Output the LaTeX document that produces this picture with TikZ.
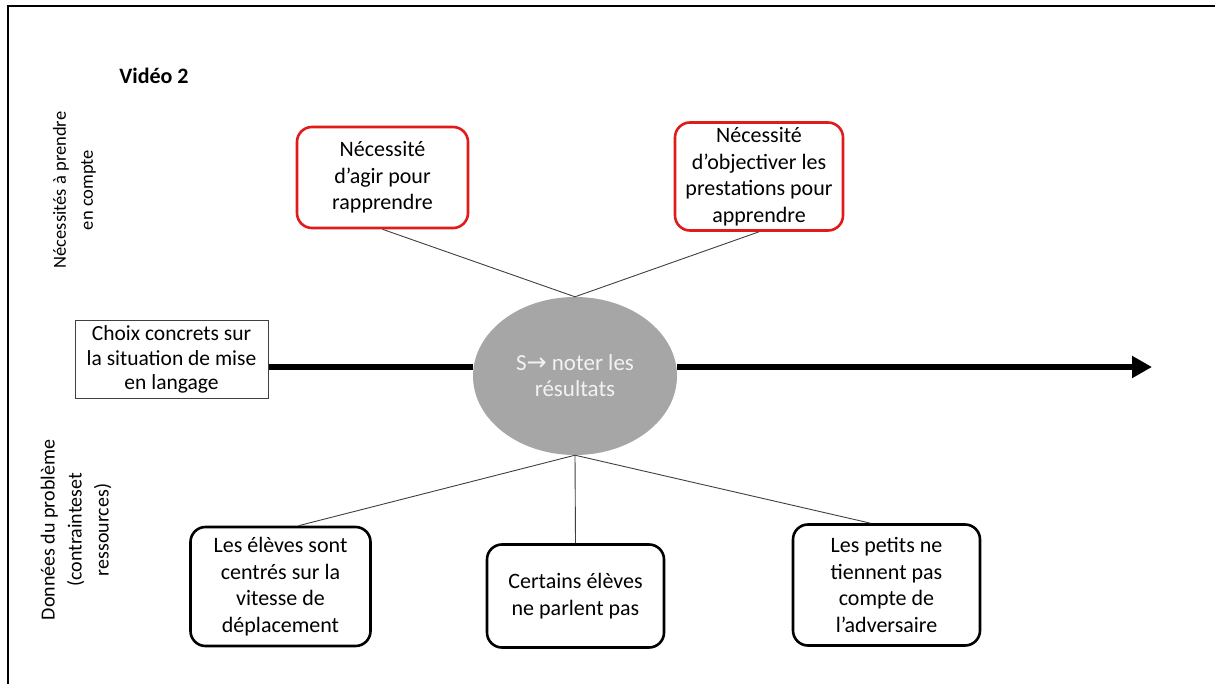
\documentclass[tikz,border=0pt]{standalone}
\usepackage{fontspec}
\setmainfont{Carlito}
\usetikzlibrary{arrows.meta,shapes.geometric}
\definecolor{boxred}{HTML}{E01B1B}
\definecolor{ellgray}{HTML}{A6A6A6}
\definecolor{elltext}{HTML}{F2F2F2}
\definecolor{connc}{HTML}{404040}
\tikzset{
  txt/.style={font=\fontsize{22}{26.5}\selectfont, align=center, inner sep=0pt},
  sidetxt/.style={font=\fontsize{18.5}{27}\selectfont, align=center, inner sep=0pt},
  redbox/.style={txt, draw=boxred, line width=2.6pt, rounded corners=15pt, fill=white},
  blackbox/.style={txt, draw=black, line width=2.6pt, rounded corners=15pt, fill=white},
  plainbox/.style={font=\fontsize{21.5}{24.5}\selectfont, align=center, inner sep=0pt, draw=connc, line width=1pt, fill=white},
  conn/.style={draw=connc, line width=0.9pt},
  thick axis/.style={line width=6.5pt, draw=black},
}
\begin{document}
\begin{tikzpicture}[x=1pt,y=-1pt]
\useasboundingbox (0,0) rectangle (1215,684);
\fill[white] (0,0) rectangle (1215,684);
% frame
\draw[line width=2pt] (8,684) -- (8,6) -- (1215,6);
% title
\node[font=\fontsize{22}{26}\selectfont\bfseries, inner sep=0pt] (title) at (154,76) {Vidéo 2};
% side labels
\node[sidetxt, rotate=90] (lab1) at (74.5,190) {Nécessités à prendre\\en compte};
\node[sidetxt, font=\fontsize{20}{27}\selectfont, rotate=90] (lab2) at (76,530) {Données du problème\\(contrainteset\\ressources)};
% boxes
\node[redbox, minimum width=171pt, minimum height=101pt] (n1) at (382.5,177.5) {Nécessité\\d’agir pour\\rapprendre};
\node[redbox, minimum width=168pt, minimum height=108pt] (n2) at (759,176.5) {Nécessité\\d’objectiver les\\prestations pour\\apprendre};
\node[plainbox, minimum width=193pt, minimum height=77pt] (c) at (171.5,359.5) {Choix concrets sur\\la situation de mise\\en langage};
\node[ellipse, fill=ellgray, minimum width=204pt, minimum height=158pt, inner sep=0pt,
      font=\fontsize{23}{26}\selectfont, text=elltext, align=center] (e) at (575,376) {S{\fontspec{DejaVu Sans}\fontsize{24}{26}\selectfont→} noter les\\résultats};
\node[blackbox, minimum width=180pt, minimum height=119pt] (a) at (280.5,586.5) {Les élèves sont\\centrés sur la\\vitesse de\\déplacement};
\node[blackbox, minimum width=177pt, minimum height=103pt] (b) at (575.5,596) {Certains élèves\\ne parlent pas};
\node[blackbox, minimum width=187pt, minimum height=121pt] (d) at (886.5,585) {Les petits ne\\tiennent pas\\compte de\\l’adversaire};
% axis
\coordinate (ly) at (0,367);
\coordinate (tip) at (1152,367);
\draw[thick axis] (c.east |- ly) -- (e.west |- ly);
\draw[thick axis, -{Triangle[length=20pt,width=21pt]}] (e.east |- ly) -- (tip);
% connectors
\draw[conn] (n1.south) -- (e.north);
\draw[conn] (n2.south) -- (e.north);
\draw[conn] (e.south) -- ([xshift=18pt]a.north);
\draw[conn] (e.south) -- (b.north);
\draw[conn] (e.south) -- ([xshift=-16pt]d.north);
\end{tikzpicture}
\end{document}
